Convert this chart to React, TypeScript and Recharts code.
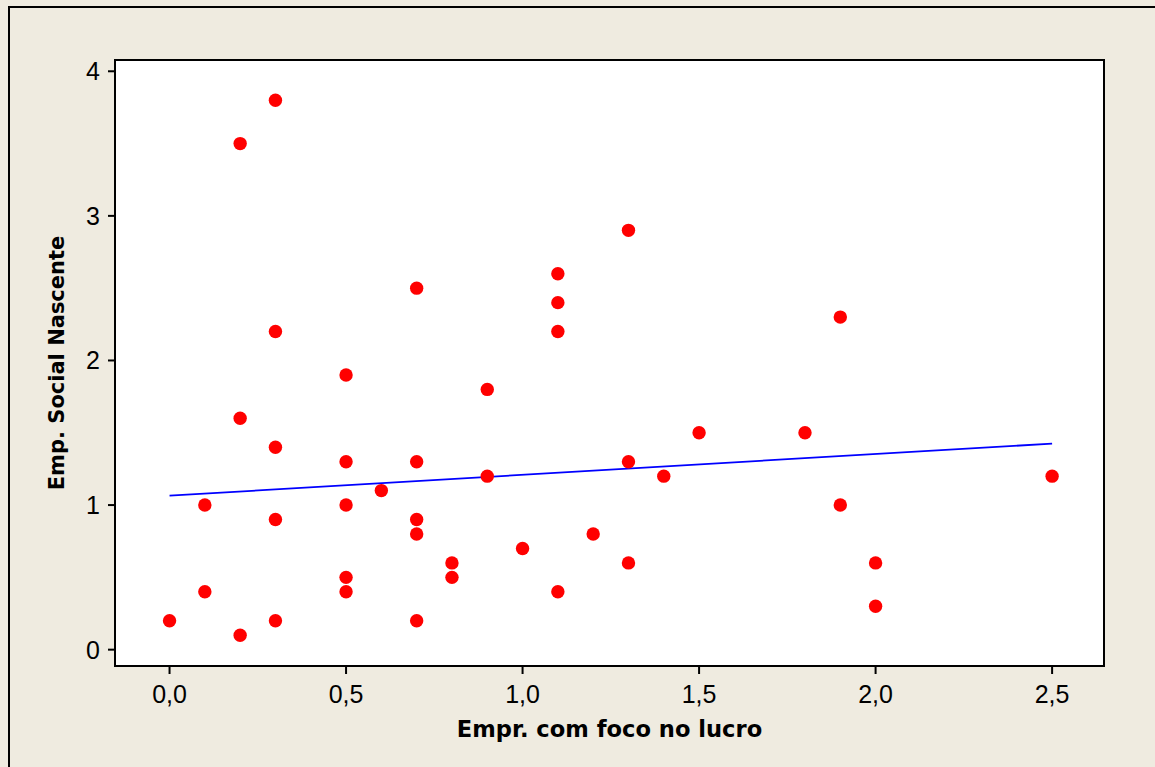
import { ScatterChart, Scatter, XAxis, YAxis, CartesianGrid, ReferenceArea, Label } from 'recharts';

// Empr. com foco no lucro (x) vs Emp. Social Nascente (y)
const lucro = [
  0.0, 0.1, 0.1, 0.2, 0.2, 0.2, 0.3, 0.3, 0.3, 0.3, 0.3,
  0.5, 0.5, 0.5, 0.5, 0.5, 0.6, 0.7, 0.7, 0.7, 0.7, 0.7,
  0.8, 0.8, 0.9, 0.9, 1.0, 1.1, 1.1, 1.1, 1.1, 1.2,
  1.3, 1.3, 1.3, 1.4, 1.5, 1.8, 1.9, 1.9, 2.0, 2.0, 2.5,
];
const social = [
  0.2, 1.0, 0.4, 3.5, 1.6, 0.1, 3.8, 2.2, 1.4, 0.9, 0.2,
  1.9, 1.3, 1.0, 0.5, 0.4, 1.1, 2.5, 1.3, 0.9, 0.8, 0.2,
  0.6, 0.5, 1.8, 1.2, 0.7, 2.6, 2.4, 2.2, 0.4, 0.8,
  2.9, 1.3, 0.6, 1.2, 1.5, 1.5, 2.3, 1.0, 0.6, 0.3, 1.2,
];

// fitted regression line end points
const fitX = [0, 2.5];
const fitY = [1.065, 1.425];

const xTicks = [0, 0.5, 1.0, 1.5, 2.0, 2.5];
const yTicks = [0, 1, 2, 3, 4];

const xDomain = [-0.1545, 2.647];
const yDomain = [-0.113, 4.078];

const points = lucro.map((x, i) => ({ x, y: social[i] }));
const fit = fitX.map((x, i) => ({ x, y: fitY[i] }));

const titleFont = '"DejaVu Sans", Verdana, sans-serif';
const tickStyle = { fontSize: 25, fill: '#000', fontFamily: '"Liberation Sans", Arial, sans-serif' };

const Dot = (props: any) => <circle cx={props.cx} cy={props.cy} r={6.7} fill="#ff0000" />;

export default function App() {
  return (
    <div style={{ position: 'fixed', left: 0, top: 0, width: 1155, height: 767, background: '#EFEBE0', overflow: 'hidden' }}>
      <div style={{ position: 'absolute', left: 8, top: 6, width: 1200, height: 800, border: '2px solid #000' }} />
      <div style={{ position: 'absolute', left: 0, top: 0 }}>
        <ScatterChart width={1155} height={767} margin={{ top: 60, right: 51, bottom: 11, left: 0 }}>
          <CartesianGrid fill="#fff" horizontal={false} vertical={false} />
          <XAxis
            type="number"
            dataKey="x"
            domain={xDomain}
            ticks={xTicks}
            allowDataOverflow
            height={90}
            axisLine={false}
            tickLine={{ stroke: '#000', strokeWidth: 2 }}
            tickSize={8}
            tickMargin={11}
            tick={tickStyle}
            tickFormatter={(v: number) => v.toFixed(1).replace('.', ',')}
          >
            <Label
              value="Empr. com foco no lucro"
              position="insideBottom"
              offset={19}
              style={{ fontSize: 22.6, fontWeight: 'bold', fill: '#000', fontFamily: titleFont }}
            />
          </XAxis>
          <YAxis
            type="number"
            dataKey="y"
            domain={yDomain}
            ticks={yTicks}
            allowDataOverflow
            width={115}
            axisLine={false}
            tickLine={{ stroke: '#000', strokeWidth: 2 }}
            tickSize={7}
            tickMargin={8}
            tick={tickStyle}
          >
            <Label
              value="Emp. Social Nascente"
              position="center"
              angle={-90}
              dx={-1}
              style={{ fontSize: 21, fontWeight: 'bold', fill: '#000', fontFamily: titleFont }}
            />
          </YAxis>
          <ReferenceArea
            x1={xDomain[0]}
            x2={xDomain[1]}
            y1={yDomain[0]}
            y2={yDomain[1]}
            fill="none"
            stroke="#000"
            strokeWidth={2}
            ifOverflow="visible"
          />
          <Scatter data={fit} line={{ stroke: '#0000ff', strokeWidth: 1.8 }} shape={() => null} isAnimationActive={false} />
          <Scatter data={points} shape={Dot} isAnimationActive={false} />
        </ScatterChart>
      </div>
    </div>
  );
}
